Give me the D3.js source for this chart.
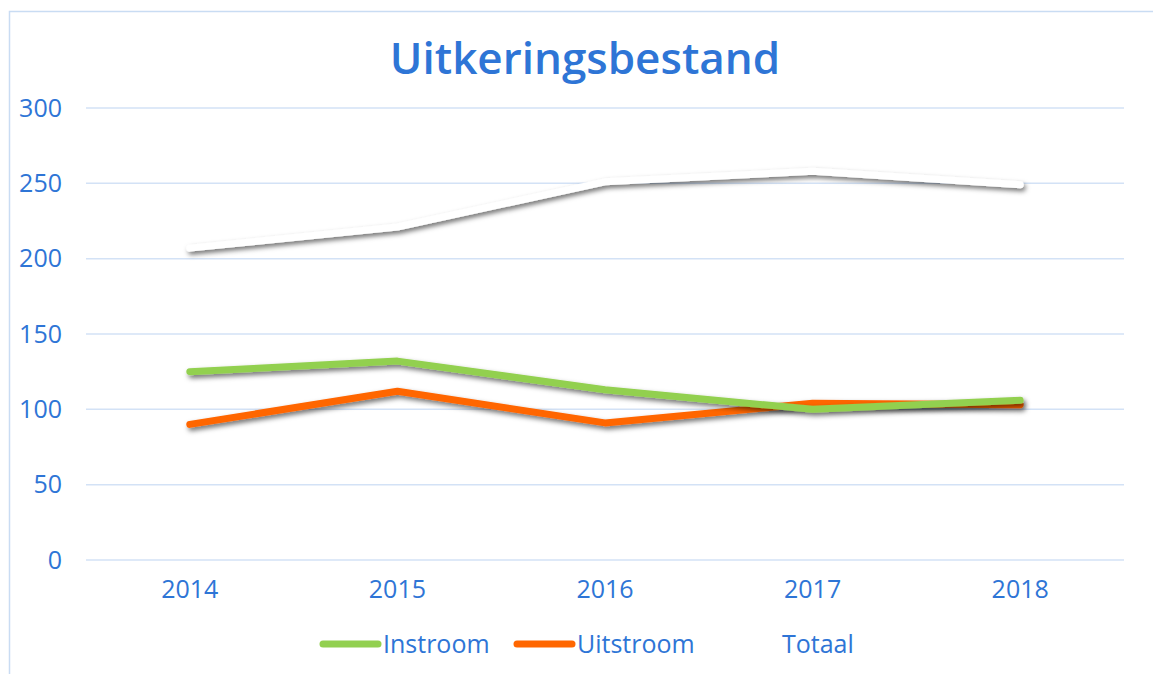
<!DOCTYPE html>
<html>
<head>
<meta charset="utf-8">
<script src="https://cdn.jsdelivr.net/npm/d3@7"></script>
<style>
  body { margin: 0; background: #fff; }
  text { font-family: "Open Sans", "Noto Sans", sans-serif; }
</style>
</head>
<body>
<div id="chart"></div>
<script>
// Data
const years = ["2014", "2015", "2016", "2017", "2018"];
const instroom = [125, 132, 113, 100, 106];
const uitstroom = [90, 112, 91, 104, 103];
const totaal = [207, 221, 251, 258, 249];
const yTicks = [0, 50, 100, 150, 200, 250, 300];

const series = [
  {name: "Instroom", values: instroom, color: "#92d050"},
  {name: "Uitstroom", values: uitstroom, color: "#ff6600"},
  {name: "Totaal", values: totaal, color: "#ffffff"}
];

const width = 1153, height = 674;
const margin = {top: 108, bottom: 114, left: 86, right: 29};
const textColor = "#2e75d6";

const svg = d3.select("#chart")
  .append("svg")
  .attr("width", width)
  .attr("height", height);

// drop shadow for the lines
const defs = svg.append("defs");
defs.append("filter")
  .attr("id", "shadow")
  .attr("x", "-10%").attr("y", "-50%")
  .attr("width", "120%").attr("height", "200%")
  .append("feDropShadow")
  .attr("dx", 2).attr("dy", 3)
  .attr("stdDeviation", 2.5)
  .attr("flood-color", "#000")
  .attr("flood-opacity", 0.55);

// chart border
svg.append("rect")
  .attr("x", 9.5).attr("y", 11.5)
  .attr("width", width).attr("height", height)
  .attr("fill", "none")
  .attr("stroke", "#c9dcf3")
  .attr("stroke-width", 1.5);

const x = d3.scaleBand()
  .domain(years)
  .range([margin.left, width - margin.right]);

const y = d3.scaleLinear()
  .domain([0, 300])
  .range([height - margin.bottom, margin.top]);

// gridlines
svg.append("g")
  .selectAll("line")
  .data(yTicks)
  .join("line")
  .attr("x1", margin.left)
  .attr("x2", width - margin.right)
  .attr("y1", d => y(d))
  .attr("y2", d => y(d))
  .attr("stroke", "#d3e2f6")
  .attr("stroke-width", 1.5);

// y axis labels
const yAxis = svg.append("g")
  .attr("transform", `translate(${margin.left},0)`)
  .call(d3.axisLeft(y).tickValues(yTicks).tickSize(0).tickPadding(24));
yAxis.select(".domain").remove();
yAxis.selectAll("text")
  .attr("fill", textColor)
  .style("font-size", "25px");

// x axis labels
const xAxis = svg.append("g")
  .attr("transform", `translate(0,${height - margin.bottom})`)
  .call(d3.axisBottom(x).tickSize(0).tickPadding(20));
xAxis.select(".domain").remove();
xAxis.selectAll("text")
  .attr("fill", textColor)
  .style("font-size", "25px");

// lines
const line = d3.line()
  .x((d, i) => x(years[i]) + x.bandwidth() / 2)
  .y(d => y(d));

svg.append("g")
  .selectAll("path")
  .data(series.slice().reverse())
  .join("path")
  .attr("d", d => line(d.values))
  .attr("fill", "none")
  .attr("stroke", d => d.color)
  .attr("stroke-width", 7)
  .attr("stroke-linecap", "round")
  .attr("stroke-linejoin", "round")
  .attr("filter", "url(#shadow)");

// title
svg.append("text")
  .attr("x", 585)
  .attr("y", 74)
  .attr("text-anchor", "middle")
  .attr("fill", textColor)
  .style("font-size", "44px")
  .style("font-weight", "600")
  .text("Uitkeringsbestand");

// legend
const legendX = [323, 517, 722];
const legend = svg.append("g");
series.forEach((s, i) => {
  legend.append("line")
    .attr("x1", legendX[i]).attr("x2", legendX[i] + 55)
    .attr("y1", 644).attr("y2", 644)
    .attr("stroke", s.color)
    .attr("stroke-width", 7)
    .attr("stroke-linecap", "round");
  legend.append("text")
    .attr("x", legendX[i] + 60)
    .attr("y", 653)
    .attr("fill", textColor)
    .style("font-size", "25px")
    .text(s.name);
});
</script>
</body>
</html>
